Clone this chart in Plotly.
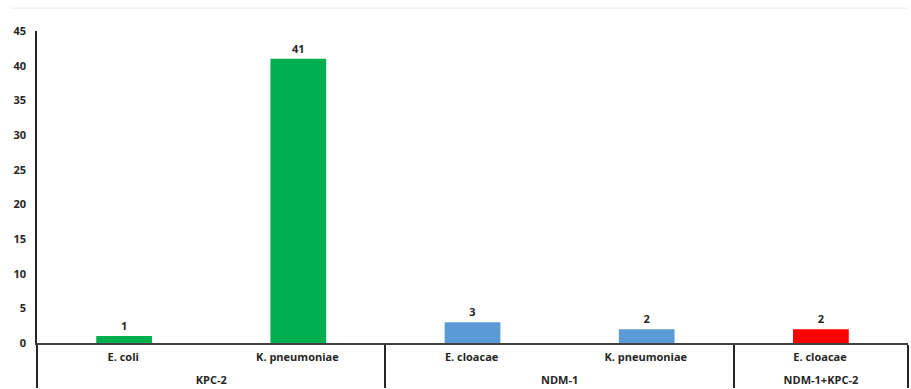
import plotly.graph_objects as go

# Plotly orders sub-categories by first appearance, so the data are listed
# in an order that yields the reference's left-to-right layout.
groups = ["KPC-2", "NDM-1", "KPC-2", "NDM-1", "NDM-1+KPC-2"]
species = ["E. coli", "E. cloacae", "K. pneumoniae", "K. pneumoniae", "E. cloacae"]
counts = [1, 3, 41, 2, 2]
colors = ["#00B050", "#5B9BD5", "#00B050", "#5B9BD5", "#FF0000"]
y_ticks = [0, 5, 10, 15, 20, 25, 30, 35, 40, 45]

font_family = "Open Sans, Liberation Sans, sans-serif"

# invisible tall hair-space to enlarge the first label row (spacing of rows)
pad = '<span style="font-size:18px">\u200a</span>'
species_labels = [s + pad for s in species]

fig = go.Figure(
    go.Bar(
        x=[groups, species_labels],
        y=counts,
        marker=dict(color=colors, line=dict(width=0)),
        width=0.32,
        text=[str(v) for v in counts],
        textposition="outside",
        textfont=dict(family=font_family, size=11, color="#262626", weight="bold"),
        cliponaxis=False,
        hoverinfo="y",
    )
)

fig.update_layout(
    width=911,
    height=389,
    margin=dict(l=37, r=3, t=31, b=46),
    paper_bgcolor="white",
    plot_bgcolor="white",
    showlegend=False,
    font=dict(family=font_family, size=11, color="#262626", weight="bold"),
    xaxis=dict(
        type="multicategory",
        showline=True,
        linecolor="#404040",
        linewidth=1.5,
        showdividers=True,
        dividercolor="#262626",
        dividerwidth=1.5,
        ticks="",
        ticklabelstandoff=3,
        tickfont=dict(family=font_family, size=11, color="#262626", weight="bold"),
        showgrid=False,
    ),
    yaxis=dict(
        range=[0, 45],
        tickvals=y_ticks,
        showline=True,
        linecolor="#262626",
        linewidth=1.5,
        showgrid=False,
        zeroline=False,
        ticks="",
        ticklabelstandoff=7,
        tickfont=dict(family=font_family, size=11, color="#262626", weight="bold"),
    ),
    shapes=[
        dict(type="line", xref="paper", yref="paper", x0=-0.03, x1=1.0, y0=1.073, y1=1.073,
             line=dict(color="#f2f2f2", width=1.5))
    ],
)

fig.write_html("out.html")
